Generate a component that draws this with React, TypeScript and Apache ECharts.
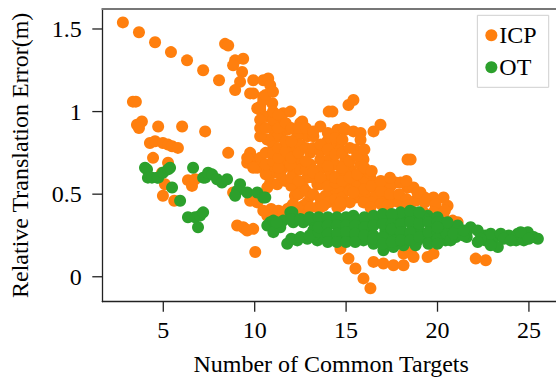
import React, { useEffect, useRef } from "react";
import * as echarts from "echarts";

// ICP: relative translation error (m) vs. number of common targets
const icpTrail: [number, number][] = [
  [2.79, 1.54], [3.67, 1.48], [4.55, 1.42], [5.42, 1.36], [6.3, 1.31], [7.18, 1.25], [8.05, 1.19],
];

const icpLeft: [number, number][] = [
  [3.34, 1.06], [3.5, 1.06], [3.56, 0.92], [3.83, 0.94], [3.67, 0.9], [4.72, 0.91], [6.03, 0.91],
  [7.29, 0.88], [4.27, 0.81], [4.55, 0.82], [4.98, 0.81], [5.26, 0.8], [5.48, 0.79], [5.8, 0.78],
  [4.44, 0.72], [5.26, 0.69], [4.93, 0.63], [4.98, 0.49], [5.09, 0.56], [5.6, 0.46], [6.35, 0.585],
  [6.57, 0.55], [6.74, 0.59], [8.55, 0.75], [8.82, 0.51], [9.04, 0.31], [9.48, 0.29], [9.92, 0.29],
  [9.37, 0.3], [10.03, 0.15],
];

const icpUpper: [number, number][] = [
  [8.38, 1.41], [8.55, 1.4], [8.93, 1.31], [9.37, 1.32], [8.82, 1.28], [9.31, 1.24], [9.2, 1.18],
  [9.92, 1.19], [10.47, 1.19], [10.74, 1.2], [10.85, 1.16], [8.93, 1.13], [9.75, 1.11], [10.47, 1.09],
  [10.96, 1.05], [10.14, 1.02], [10.3, 1.01], [10.85, 0.97], [11.56, 0.99], [11.95, 1.0], [12.6, 0.94],
  [11.4, 0.93], [11.02, 0.89], [11.78, 0.89], [12.33, 0.87], [13.59, 0.91], [14.05, 1.0], [14.25, 1.0],
  [15.13, 1.04], [15.4, 1.07], [14.52, 0.89], [14.96, 0.89], [12.88, 0.85], [10.69, 0.83], [11.4, 0.85],
  [12.33, 0.85], [13.21, 0.85], [14.85, 0.9], [15.4, 0.88], [15.79, 0.87], [16.5, 0.88], [16.88, 0.92],
  [13.97, 0.82], [14.52, 0.79], [12.49, 0.93], [10.3, 1.03], [9.92, 1.11], [10.47, 1.07], [10.74, 0.97],
  [11.23, 0.85], [10.74, 0.83], [11.02, 0.79], [15.79, 0.83],
];

const icpCore: [number, number][] = [
  [9.75, 0.75], [9.92, 0.71], [10.3, 0.72], [9.59, 0.69], [10.14, 0.66], [11.02, 0.63], [9.59, 0.72],
  [9.92, 0.66], [11.02, 0.65], [11.56, 0.66], [12.33, 0.71], [13.04, 0.75], [13.59, 0.71], [14.14, 0.72],
  [12.11, 0.63], [12.88, 0.6], [13.43, 0.56], [13.97, 0.57], [14.69, 0.62], [15.24, 0.65], [15.95, 0.71],
  [15.95, 0.63], [10.85, 0.57], [12.49, 0.54], [14.14, 0.52], [15.07, 0.55], [15.79, 0.59], [16.5, 0.54],
  [17.04, 0.56], [17.59, 0.57], [16.17, 0.48], [16.88, 0.48], [17.43, 0.46], [9.75, 0.46], [10.14, 0.45],
  [10.69, 0.54], [11.95, 0.42], [12.88, 0.45], [13.43, 0.42], [14.69, 0.43], [18.36, 0.71], [18.53, 0.71],
  [15.9, 0.72], [16.33, 0.6], [17.26, 0.54], [17.7, 0.57], [18.36, 0.54], [18.91, 0.51], [19.78, 0.48],
  [20.33, 0.48], [13.48, 0.56], [11.23, 0.56], [12.66, 0.54], [13.59, 0.56], [14.52, 0.54], [15.95, 0.57],
  [16.72, 0.53], [18.69, 0.54], [19.07, 0.51], [11.95, 0.77], [12.49, 0.8], [11.67, 0.71], [12.49, 0.65],
  [13.59, 0.65], [14.41, 0.68], [14.96, 0.71], [14.69, 0.77], [15.51, 0.77], [15.79, 0.68], [14.96, 0.62],
  [15.51, 0.55], [14.14, 0.62], [13.04, 0.68], [11.95, 0.68], [11.4, 0.62], [12.2, 0.49], [13.04, 0.49],
  [13.87, 0.49], [14.69, 0.51], [15.51, 0.48], [16.6, 0.49], [17.43, 0.55], [17.98, 0.57], [20.55, 0.43],
  [18.42, 0.43], [17.43, 0.45],
];

const icpDense: [number, number][] = [
  [10.3, 0.85], [10.3, 0.9], [10.3, 0.95], [10.6, 0.62], [10.6, 0.68], [10.6, 0.75], [10.6, 0.9],
  [10.6, 1.1], [11.0, 0.7], [11.0, 0.75], [11.0, 0.95], [11.0, 1.0], [11.0, 1.12], [11.3, 0.66],
  [11.3, 0.72], [11.3, 0.78], [11.3, 0.9], [11.3, 0.98], [11.7, 0.58], [11.7, 0.76], [11.7, 0.82],
  [11.7, 0.93], [12.0, 0.55], [12.0, 0.6], [12.0, 0.72], [12.0, 0.82], [12.0, 0.9], [12.4, 0.5],
  [12.4, 0.58], [12.4, 0.75], [12.4, 0.9], [12.8, 0.52], [12.8, 0.65], [12.8, 0.7], [12.8, 0.78],
  [12.8, 0.9], [13.2, 0.5], [13.2, 0.6], [13.2, 0.63], [13.2, 0.78], [13.2, 0.88], [13.6, 0.47],
  [13.6, 0.6], [13.6, 0.76], [13.6, 0.8], [14.0, 0.45], [14.0, 0.55], [14.0, 0.67], [14.0, 0.77],
  [14.0, 0.87], [14.4, 0.47], [14.4, 0.57], [14.4, 0.6], [14.4, 0.74], [14.4, 0.84], [14.8, 0.48],
  [14.8, 0.58], [14.8, 0.66], [14.8, 0.75], [14.8, 0.83], [15.2, 0.45], [15.2, 0.52], [15.2, 0.6],
  [15.2, 0.7], [15.2, 0.78], [15.6, 0.5], [15.6, 0.62], [15.6, 0.73], [16.0, 0.5], [16.0, 0.53],
  [16.0, 0.66], [16.0, 0.77], [16.4, 0.45], [16.4, 0.55], [16.4, 0.64], [16.9, 0.44], [16.9, 0.52],
  [16.9, 0.58], [17.4, 0.5], [17.4, 0.6], [17.9, 0.45], [17.9, 0.5], [18.3, 0.47], [18.3, 0.58],
  [18.8, 0.46], [19.3, 0.45], [19.3, 0.48], [19.9, 0.42], [19.9, 0.44], [20.4, 0.4], [10.9, 0.41],
  [11.3, 0.4], [11.8, 0.41], [12.1, 0.44], [12.6, 0.4],
];

const icpMid: [number, number][] = [
  [12.66, 0.43], [13.59, 0.42], [14.52, 0.42], [15.95, 0.45], [16.33, 0.42], [17.26, 0.43], [18.14, 0.42],
  [19.24, 0.39], [19.78, 0.39], [20.33, 0.36], [20.83, 0.34], [21.1, 0.33], [10.69, 0.37], [11.02, 0.36],
  [11.56, 0.39], [12.33, 0.42], [13.04, 0.42], [13.76, 0.43], [14.69, 0.45], [15.4, 0.51], [18.36, 0.43],
  [18.91, 0.51], [10.47, 0.4], [9.59, 0.28],
];

const icpLow: [number, number][] = [
  [14.69, 0.17], [15.13, 0.11], [15.51, 0.05], [15.95, -0.01], [16.33, -0.07], [16.5, 0.09], [17.04, 0.08],
  [17.59, 0.07], [18.14, 0.07], [18.14, 0.14], [18.53, 0.15], [18.69, 0.12], [19.46, 0.12], [19.78, 0.14],
  [22.09, 0.11], [22.64, 0.1],
];

// OT: relative translation error (m) vs. number of common targets
const otLeft: [number, number][] = [
  [4.0, 0.66], [4.11, 0.65], [4.16, 0.6], [4.38, 0.6], [4.66, 0.6], [4.72, 0.6], [4.98, 0.63], [5.26, 0.65],
  [5.37, 0.66], [5.48, 0.54], [5.92, 0.46], [6.35, 0.36], [6.74, 0.36], [7.01, 0.37], [7.18, 0.39],
  [6.9, 0.3], [6.63, 0.66], [7.18, 0.6], [7.29, 0.6], [7.45, 0.63], [7.67, 0.62], [7.94, 0.59], [8.21, 0.57],
  [8.49, 0.59], [9.2, 0.56], [9.04, 0.52], [8.93, 0.49], [9.59, 0.51], [10.14, 0.51], [10.47, 0.48],
  [10.58, 0.48], [10.85, 0.33], [11.23, 0.3],
];

const otBand: [number, number][] = [
  [10.69, 0.31], [11.02, 0.34], [11.56, 0.34], [11.95, 0.39], [12.06, 0.39], [12.11, 0.33], [12.66, 0.33],
  [13.21, 0.33], [13.76, 0.34], [14.31, 0.34], [14.85, 0.33], [15.4, 0.37], [15.95, 0.33], [16.5, 0.34],
  [16.88, 0.36], [17.43, 0.36], [17.98, 0.36], [18.53, 0.37], [19.07, 0.36], [18.69, 0.39], [17.98, 0.39],
  [19.46, 0.37], [11.02, 0.27], [11.4, 0.3], [11.78, 0.2], [12.33, 0.22], [12.88, 0.23], [13.43, 0.22],
  [13.76, 0.24], [14.31, 0.23], [14.85, 0.24], [15.4, 0.24], [15.95, 0.22], [16.5, 0.2], [17.04, 0.16],
  [17.59, 0.18], [18.14, 0.19], [18.91, 0.22], [19.46, 0.23], [13.2, 0.28], [13.87, 0.29], [14.69, 0.28],
  [15.51, 0.29], [16.33, 0.28], [17.15, 0.28], [17.98, 0.29], [18.8, 0.29], [19.62, 0.29], [17.43, 0.25],
  [18.25, 0.25], [19.07, 0.27], [20.17, 0.25], [20.44, 0.22], [18.8, 0.19], [17.7, 0.22], [16.06, 0.27],
  [17.26, 0.36], [19.24, 0.36], [20.17, 0.33],
];

const otDense: [number, number][] = [
  [11.2, 0.33], [12.0, 0.35], [12.0, 0.23], [12.5, 0.35], [12.5, 0.24], [13.0, 0.36], [13.0, 0.25],
  [13.5, 0.36], [13.5, 0.27], [13.5, 0.3], [14.0, 0.36], [14.0, 0.31], [14.0, 0.26], [14.0, 0.21],
  [14.5, 0.36], [14.5, 0.31], [14.5, 0.26], [14.5, 0.21], [15.0, 0.36], [15.0, 0.31], [15.0, 0.27],
  [15.0, 0.21], [15.5, 0.34], [15.5, 0.31], [15.5, 0.26], [15.5, 0.21], [16.0, 0.36], [16.0, 0.3],
  [16.0, 0.25], [16.5, 0.37], [16.5, 0.31], [16.5, 0.25], [16.5, 0.23], [17.0, 0.38], [17.0, 0.32],
  [17.0, 0.24], [17.0, 0.2], [17.5, 0.38], [17.5, 0.32], [17.5, 0.29], [17.5, 0.21], [18.0, 0.32],
  [18.0, 0.27], [18.0, 0.22], [18.5, 0.4], [18.5, 0.33], [18.5, 0.27], [18.5, 0.22], [19.0, 0.39],
  [19.0, 0.32], [19.0, 0.24], [19.5, 0.33], [19.5, 0.27], [19.5, 0.2], [20.0, 0.36], [20.0, 0.33],
  [20.0, 0.27], [20.0, 0.23], [20.5, 0.3], [20.5, 0.26], [21.0, 0.29], [21.0, 0.24], [21.6, 0.27],
  [21.6, 0.24], [22.6, 0.25], [22.6, 0.22], [23.1, 0.24], [23.9, 0.25], [24.3, 0.22],
];

const otTail: [number, number][] = [
  [20.0, 0.2], [20.72, 0.22], [21.1, 0.31], [21.81, 0.3], [22.2, 0.28], [22.91, 0.26], [23.46, 0.26],
  [23.62, 0.23], [24.39, 0.26], [24.94, 0.27], [25.27, 0.24], [25.49, 0.23], [23.3, 0.18], [22.91, 0.19],
  [24.01, 0.22], [24.72, 0.22], [20.55, 0.33], [20.0, 0.3], [20.88, 0.26], [21.43, 0.25], [22.36, 0.23],
  [24.55, 0.27], [24.99, 0.23], [21.43, 0.28], [22.2, 0.21],
];

const xTicks = [5, 10, 15, 20, 25];
const yTicks = [0, 0.5, 1, 1.5];
const seriesNames = ["ICP", "OT"];

const X_MIN = 1.664;
const X_MAX = 26.7;
const Y_MIN = -0.151;
const Y_MAX = 1.621;

const icpData = [...icpTrail, ...icpLeft, ...icpUpper, ...icpCore, ...icpDense, ...icpMid, ...icpLow];
const otData = [...otLeft, ...otBand, ...otDense, ...otTail];

const FONT = "'Liberation Serif', 'DejaVu Serif', serif";
const ORANGE = "#ff7f0e";
const GREEN = "#2ca02c";
const AXIS_COLOR = "#222";
const TICK_LEN = 10;
const CHART_W = 570;

// Outward tick marks drawn through the cartesian coordinate system
const tickSeries = (data: number[][], dir: "down" | "left") => ({
  type: "custom",
  coordinateSystem: "cartesian2d",
  xAxisIndex: 0,
  yAxisIndex: 0,
  silent: true,
  clip: false,
  z: 5,
  data,
  renderItem: (_params: any, api: any) => {
    const p = api.coord([api.value(0), api.value(1)]);
    const shape =
      dir === "down"
        ? { x1: p[0], y1: p[1], x2: p[0], y2: p[1] + TICK_LEN }
        : { x1: p[0] - TICK_LEN, y1: p[1], x2: p[0], y2: p[1] };
    return { type: "line", shape, style: { stroke: AXIS_COLOR, lineWidth: 1.3 } };
  },
});

export default function App() {
  const ref = useRef<HTMLDivElement>(null);

  useEffect(() => {
    if (!ref.current) return;
    const chart = echarts.init(ref.current, undefined, { renderer: "svg" });
    chart.setOption({
      animation: false,
      backgroundColor: "#fff",
      textStyle: { fontFamily: FONT },
      grid: { left: 102.3, right: CHART_W - 560, top: 9, bottom: 79.3, containLabel: false },
      legend: {
        data: seriesNames,
        orient: "vertical",
        right: CHART_W - 548.7,
        top: 15.3,
        padding: [8, 12, 8, 8],
        itemGap: 8,
        itemWidth: 12,
        itemHeight: 12,
        icon: "circle",
        borderColor: "#cfcfcf",
        borderWidth: 1,
        backgroundColor: "#fff",
        textStyle: { fontSize: 24, fontFamily: FONT, color: "#000", padding: [0, 0, 0, -3] },
      },
      xAxis: [
        {
          type: "value",
          position: "bottom",
          min: X_MIN,
          max: X_MAX,
          name: "Number of Common Targets",
          nameLocation: "middle",
          nameGap: 50,
          nameTextStyle: { fontSize: 24, fontFamily: FONT, color: "#000" },
          axisLine: { show: true, onZero: false, lineStyle: { color: AXIS_COLOR, width: 1.3 } },
          axisTick: { show: false },
          axisLabel: { customValues: xTicks, margin: 16, fontSize: 24, fontFamily: FONT, color: "#000" },
          splitLine: { show: false },
        },
        {
          type: "value",
          position: "top",
          min: X_MIN,
          max: X_MAX,
          axisLine: { show: true, onZero: false, lineStyle: { color: "#777", width: 2 } },
          axisTick: { show: false },
          axisLabel: { show: false },
          splitLine: { show: false },
        },
      ],
      yAxis: {
        type: "value",
        min: Y_MIN,
        max: Y_MAX,
        name: "Relative Translation Error(m)",
        nameLocation: "middle",
        nameGap: 70,
        nameRotate: 90,
        nameTextStyle: { fontSize: 24, fontFamily: FONT, color: "#000" },
        axisLine: { show: true, onZero: false, lineStyle: { color: AXIS_COLOR, width: 1.3 } },
        axisTick: { show: false },
        axisLabel: { customValues: yTicks, margin: 20.6, fontSize: 24, fontFamily: FONT, color: "#000" },
        splitLine: { show: false },
      },
      series: [
        {
          name: seriesNames[0],
          type: "scatter",
          xAxisIndex: 0,
          data: icpData,
          symbol: "circle",
          symbolSize: 12,
          itemStyle: { color: ORANGE, opacity: 1 },
        },
        {
          name: seriesNames[1],
          type: "scatter",
          xAxisIndex: 0,
          data: otData,
          symbol: "circle",
          symbolSize: 12,
          itemStyle: { color: GREEN, opacity: 1 },
        },
        tickSeries(xTicks.map((v) => [v, Y_MIN]), "down"),
        tickSeries(yTicks.map((v) => [X_MIN, v]), "left"),
      ],
    });
    return () => chart.dispose();
  }, []);

  return (
    <div style={{ position: "absolute", left: 0, top: 0, width: 556, height: 381, overflow: "hidden", background: "#fff" }}>
      <div ref={ref} style={{ width: CHART_W, height: 381 }} />
    </div>
  );
}
